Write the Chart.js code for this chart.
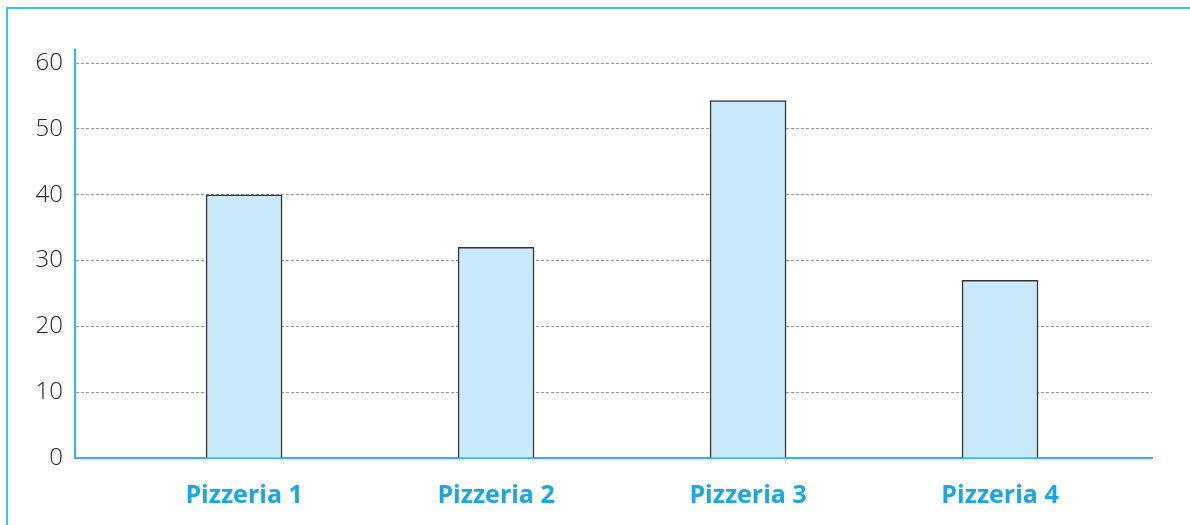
<!DOCTYPE html>
<html>
<head>
<meta charset="utf-8">
<script src="https://cdn.jsdelivr.net/npm/chart.js@4.4.0/dist/chart.umd.min.js"></script>
<style>
    html, body { margin: 0; padding: 0; background: #fff; }
    #wrap { position: relative; width: 1190px; height: 525px; }
    #frame {
        position: absolute; left: 6px; top: 7px; right: 0; bottom: 0;
        border-top: 2px solid #3fbdec; border-left: 2px solid #3fbdec;
    }
    canvas { position: absolute; left: 0; top: 0; }
</style>
</head>
<body>
<div id="wrap">
    <div id="frame"></div>
    <canvas id="chart" width="1190" height="525"></canvas>
</div>
<script>
    "use strict";

    // data
    var categories = ["Pizzeria 1", "Pizzeria 2", "Pizzeria 3", "Pizzeria 4"];
    var values = [40, 32, 54.3, 27];
    var yTicks = [0, 10, 20, 30, 40, 50, 60];

    var blue = '#1aa6e0';
    var axisBlue = '#2cb6ea';

    var points = categories.map(function (c, i) {
        return { x: i + 1, y: values[i] };
    });

    var ctx = document.getElementById('chart').getContext('2d');
    var chart = new Chart(ctx, {
        type: 'bar',
        data: {
            datasets: [{
                data: points,
                backgroundColor: '#c7e9f9',
                borderColor: '#333',
                borderWidth: 1.5,
                borderSkipped: 'bottom',
                barThickness: 76
            }]
        },
        options: {
            responsive: false,
            animation: false,
            layout: { padding: { left: 0, right: 38, top: 50, bottom: 0 } },
            plugins: {
                legend: { display: false },
                tooltip: { enabled: false }
            },
            scales: {
                x: {
                    type: 'linear',
                    offset: false,
                    min: 0.329,
                    max: 4.603,
                    afterFit: function (scale) { scale.height = 67; },
                    afterBuildTicks: function (scale) {
                        scale.ticks = categories.map(function (c, i) { return { value: i + 1 }; });
                    },
                    grid: { display: false, drawTicks: false },
                    border: { color: axisBlue, width: 2 },
                    ticks: {
                        padding: 23,
                        color: blue,
                        font: { family: 'Open Sans', size: 25, weight: 'bold' },
                        callback: function (v) { return categories[v - 1]; }
                    }
                },
                y: {
                    min: 0,
                    max: 62,
                    afterFit: function (scale) { scale.width = 75; },
                    afterBuildTicks: function (scale) {
                        scale.ticks = yTicks.map(function (v) { return { value: v }; });
                    },
                    grid: {
                        drawTicks: false,
                        color: '#9a9a9a',
                        lineWidth: 1
                    },
                    border: { color: axisBlue, width: 2, dash: [3, 2] },
                    ticks: {
                        padding: 12,
                        color: '#222',
                        font: { family: 'Open Sans', size: 24, weight: '300' }
                    }
                }
            }
        }
    });
</script>
</body>
</html>
